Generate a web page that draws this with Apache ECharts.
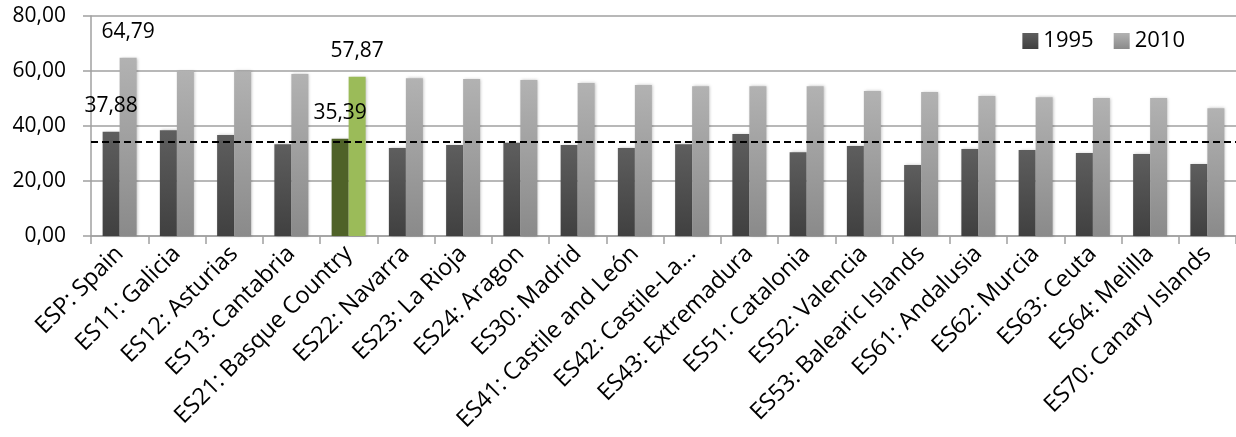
<!DOCTYPE html>
<html>
<head>
<meta charset="utf-8">
<script src="https://cdn.jsdelivr.net/npm/echarts@6/dist/echarts.min.js"></script>
<style>
html,body{margin:0;padding:0;background:#fff;}
#chart{width:1236px;height:437px;}
</style>
</head>
<body>
<div id="chart"></div>
<script>
const categories = ["ESP: Spain","ES11: Galicia","ES12: Asturias","ES13: Cantabria","ES21: Basque Country","ES22: Navarra","ES23: La Rioja","ES24: Aragon","ES30: Madrid","ES41: Castile and León","ES42: Castile-La...","ES43: Extremadura","ES51: Catalonia","ES52: Valencia","ES53: Balearic Islands","ES61: Andalusia","ES62: Murcia","ES63: Ceuta","ES64: Melilla","ES70: Canary Islands"];
const values1995 = [37.88,38.5,36.7,33.4,35.39,32.0,33.1,33.9,33.1,32.0,33.4,37.1,30.5,32.7,25.8,31.6,31.3,30.2,29.8,26.2];
const values2010 = [64.79,60.1,59.9,58.9,57.87,57.4,57.1,56.7,55.6,54.9,54.5,54.5,54.5,52.7,52.4,50.9,50.5,50.2,50.2,46.5];
const labelledIndices = [0,4];
const highlightIndex = 4;
const referenceLevel = 34.2;

const fmt = v => v.toFixed(2).replace('.', ',');
const FONT = 'Open Sans';

const darkGrad = new echarts.graphic.LinearGradient(0,0,0,1,[{offset:0,color:'#5e5e5e'},{offset:1,color:'#404040'}]);
const lightGrad = new echarts.graphic.LinearGradient(0,0,0,1,[{offset:0,color:'#b2b2b2'},{offset:1,color:'#8a8a8a'}]);

function buildData(vals, isDark){
  return vals.map((v,i)=>{
    const item = {value:v};
    if(i===highlightIndex){
      item.itemStyle = {color: isDark ? '#4f6228' : '#9bbb59'};
    }
    if(labelledIndices.indexOf(i) >= 0){
      item.label = {show:true};
    }
    return item;
  });
}

const chart = echarts.init(document.getElementById('chart'), null, {renderer:'canvas'});
const labelCfg = {show:false, position:'top', distance:15, fontFamily:FONT, fontSize:21, color:'#000', formatter: p => fmt(p.value)};
chart.setOption({
  animation:false,
  backgroundColor:'#fff',
  grid:{left:91, right:-7, top:16, bottom:201, containLabel:false},
  legend:{
    right:46, top:25, itemWidth:16, itemHeight:16, itemGap:20,
    icon:'rect',
    textStyle:{fontFamily:FONT, fontSize:22, color:'#000'},
    data:['1995','2010']
  },
  xAxis:{
    type:'category', data:categories,
    axisLine:{lineStyle:{color:'#a0a0a0', width:1.5}},
    axisTick:{show:true, length:8, lineStyle:{color:'#a0a0a0', width:1.5}},
    axisLabel:{rotate:45, interval:0, margin:14, fontFamily:FONT, fontSize:23.5, color:'#000'}
  },
  yAxis:{
    type:'value', min:0, max:80, interval:20,
    axisLine:{show:true, lineStyle:{color:'#a0a0a0', width:1.5}},
    axisTick:{show:true, length:8, lineStyle:{color:'#a0a0a0', width:1.5}},
    splitLine:{lineStyle:{color:'#a0a0a0', width:1.5}},
    axisLabel:{margin:25, fontFamily:FONT, fontSize:21, color:'#000', formatter: v => fmt(v)}
  },
  series:[
    {name:'1995', type:'bar', barWidth:17, barGap:'0%', itemStyle:{color:darkGrad, shadowColor:'rgba(0,0,0,0.25)', shadowBlur:3, shadowOffsetX:1}, label:labelCfg, data:buildData(values1995,true), z:2,
     markLine:{silent:true, symbol:'none', label:{show:false}, lineStyle:{color:'#000', type:[7,4], width:2}, data:[{yAxis:referenceLevel}], z:10}},
    {name:'2010', type:'bar', barWidth:17, itemStyle:{color:lightGrad, shadowColor:'rgba(0,0,0,0.25)', shadowBlur:3, shadowOffsetX:1}, label:labelCfg, data:buildData(values2010,false), z:2}
  ]
});
</script>
</body>
</html>
